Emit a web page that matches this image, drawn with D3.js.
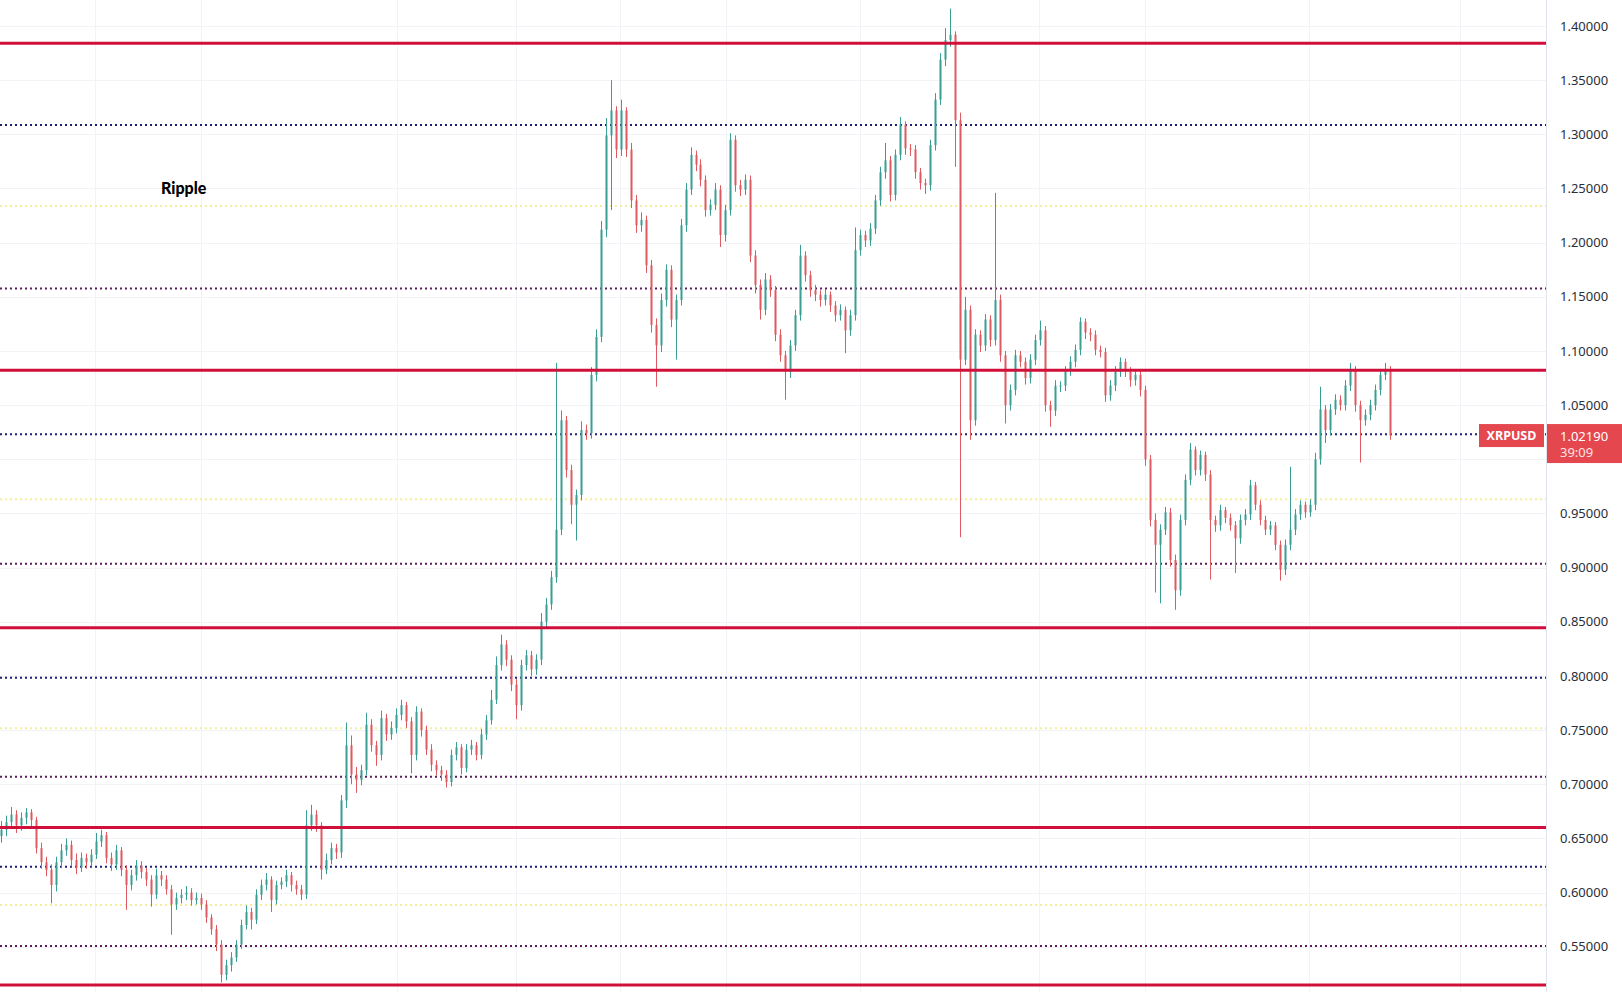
<!DOCTYPE html>
<html><head><meta charset="utf-8">
<script src="https://cdn.jsdelivr.net/npm/d3@7/dist/d3.min.js"></script>
<style>html,body{margin:0;padding:0;background:#fff;overflow:hidden}svg{display:block}</style>
</head><body>
<script>
// ---- data (XRPUSD) ----
const firstOpen = 0.652;
const closes = [
0.658,0.665,0.672,0.662,0.669,0.674,0.667,0.641,0.628,0.621,
0.607,0.628,0.639,0.644,0.630,0.623,0.632,0.628,0.635,0.647,
0.653,0.632,0.626,0.639,0.621,0.607,0.616,0.625,0.619,0.612,
0.598,0.616,0.612,0.603,0.589,0.595,0.598,0.600,0.593,0.595,
0.589,0.577,0.566,0.552,0.524,0.533,0.540,0.552,0.570,0.582,
0.575,0.598,0.607,0.612,0.593,0.607,0.610,0.616,0.607,0.603,
0.598,0.662,0.672,0.662,0.621,0.630,0.641,0.637,0.685,0.736,
0.709,0.704,0.713,0.755,0.736,0.727,0.761,0.746,0.752,0.764,
0.773,0.758,0.727,0.767,0.750,0.732,0.718,0.713,0.709,0.702,
0.727,0.734,0.715,0.732,0.736,0.727,0.746,0.759,0.778,0.810,
0.829,0.815,0.792,0.773,0.810,0.819,0.806,0.815,0.850,0.866,
0.891,0.935,1.036,0.990,0.958,0.967,1.027,1.024,1.078,1.113,
1.212,1.299,1.322,1.286,1.322,1.286,1.239,1.216,1.221,1.179,
1.124,1.105,1.147,1.175,1.129,1.147,1.216,1.249,1.281,1.272,
1.258,1.230,1.235,1.249,1.207,1.230,1.295,1.253,1.249,1.258,
1.188,1.161,1.138,1.166,1.156,1.115,1.096,1.081,1.105,1.133,
1.188,1.170,1.156,1.152,1.147,1.152,1.142,1.133,1.138,1.119,
1.133,1.193,1.207,1.202,1.213,1.239,1.265,1.276,1.244,1.281,
1.309,1.287,1.286,1.265,1.255,1.253,1.290,1.332,1.369,1.387,
1.392,1.313,1.092,1.138,1.036,1.115,1.105,1.129,1.110,1.147,
1.096,1.050,1.064,1.096,1.090,1.075,1.092,1.110,1.119,1.050,
1.045,1.068,1.068,1.082,1.090,1.101,1.127,1.117,1.115,1.101,
1.099,1.059,1.068,1.081,1.090,1.081,1.073,1.078,1.064,1.000,
0.944,0.921,0.935,0.951,0.907,0.879,0.944,0.981,1.009,0.990,
1.004,0.986,0.944,0.939,0.953,0.946,0.939,0.927,0.944,0.949,
0.976,0.958,0.944,0.935,0.939,0.921,0.898,0.921,0.935,0.949,
0.958,0.951,0.958,1.000,1.046,1.027,1.046,1.055,1.050,1.068,
1.082,1.050,1.036,1.041,1.050,1.064,1.078,1.082,1.0219
];
const highs = [
0.666,0.671,0.679,0.676,0.674,0.678,0.677,0.670,0.646,0.633,
0.626,0.633,0.645,0.650,0.648,0.636,0.637,0.636,0.640,0.655,
0.658,0.656,0.637,0.644,0.642,0.625,0.621,0.630,0.629,0.623,
0.616,0.622,0.620,0.616,0.607,0.600,0.603,0.606,0.604,0.600,
0.599,0.593,0.580,0.570,0.556,0.538,0.545,0.556,0.575,0.588,
0.586,0.603,0.612,0.618,0.615,0.611,0.614,0.621,0.619,0.611,
0.607,0.676,0.681,0.676,0.665,0.636,0.646,0.645,0.690,0.757,
0.745,0.716,0.718,0.766,0.760,0.740,0.768,0.765,0.758,0.770,
0.778,0.776,0.762,0.772,0.770,0.754,0.737,0.722,0.717,0.713,
0.732,0.739,0.737,0.737,0.741,0.739,0.751,0.764,0.787,0.818,
0.838,0.833,0.819,0.797,0.815,0.824,0.823,0.820,0.858,0.872,
0.897,1.089,1.045,1.040,0.995,0.972,1.035,1.032,1.085,1.120,
1.220,1.315,1.350,1.326,1.332,1.325,1.292,1.244,1.228,1.225,
1.184,1.130,1.153,1.180,1.179,1.152,1.222,1.255,1.288,1.285,
1.277,1.262,1.240,1.255,1.253,1.235,1.301,1.299,1.258,1.263,
1.262,1.193,1.166,1.172,1.170,1.160,1.120,1.100,1.110,1.138,
1.198,1.192,1.174,1.161,1.156,1.157,1.155,1.146,1.143,1.141,
1.138,1.214,1.212,1.211,1.218,1.244,1.270,1.292,1.280,1.286,
1.316,1.312,1.291,1.290,1.269,1.259,1.295,1.338,1.375,1.398,
1.416,1.395,1.320,1.150,1.142,1.120,1.119,1.134,1.133,1.246,
1.152,1.100,1.069,1.101,1.100,1.094,1.097,1.115,1.128,1.123,
1.054,1.073,1.072,1.086,1.095,1.106,1.131,1.130,1.121,1.119,
1.105,1.103,1.073,1.086,1.094,1.093,1.085,1.082,1.083,1.068,
1.004,0.950,0.940,0.956,0.955,0.912,0.949,0.986,1.015,1.012,
1.008,1.007,0.990,0.948,0.958,0.956,0.950,0.943,0.949,0.954,
0.981,0.979,0.962,0.948,0.943,0.942,0.925,0.926,0.993,0.954,
0.962,0.961,0.963,1.006,1.067,1.050,1.051,1.060,1.059,1.073,
1.089,1.086,1.054,1.046,1.055,1.069,1.083,1.089,1.086
];
const lows = [
0.646,0.652,0.660,0.655,0.657,0.663,0.660,0.636,0.622,0.615,
0.590,0.601,0.623,0.634,0.624,0.617,0.619,0.622,0.624,0.631,
0.642,0.627,0.620,0.621,0.615,0.584,0.602,0.611,0.613,0.606,
0.587,0.594,0.606,0.598,0.561,0.584,0.590,0.593,0.588,0.589,
0.584,0.572,0.561,0.546,0.517,0.519,0.527,0.536,0.548,0.566,
0.566,0.571,0.593,0.602,0.582,0.589,0.603,0.605,0.601,0.598,
0.593,0.594,0.657,0.656,0.612,0.617,0.626,0.631,0.632,0.678,
0.700,0.692,0.699,0.708,0.730,0.717,0.722,0.740,0.741,0.747,
0.759,0.752,0.710,0.722,0.744,0.727,0.712,0.708,0.703,0.697,
0.698,0.722,0.709,0.711,0.727,0.722,0.723,0.741,0.755,0.774,
0.805,0.809,0.786,0.760,0.768,0.805,0.800,0.801,0.810,0.845,
0.861,0.886,0.930,0.983,0.940,0.925,0.962,1.018,1.019,1.072,
1.108,1.205,1.230,1.278,1.280,1.279,1.232,1.209,1.210,1.172,
1.117,1.067,1.099,1.141,1.122,1.092,1.142,1.210,1.244,1.266,
1.252,1.224,1.225,1.230,1.196,1.201,1.225,1.247,1.243,1.244,
1.182,1.153,1.129,1.133,1.150,1.109,1.090,1.055,1.075,1.100,
1.128,1.164,1.150,1.146,1.141,1.142,1.136,1.127,1.128,1.098,
1.114,1.128,1.188,1.196,1.197,1.208,1.234,1.259,1.238,1.239,
1.276,1.281,1.280,1.259,1.249,1.245,1.248,1.285,1.327,1.363,
1.381,1.270,0.928,1.087,1.018,1.031,1.099,1.100,1.104,1.105,
1.090,1.033,1.045,1.059,1.085,1.069,1.070,1.087,1.105,1.044,
1.030,1.040,1.062,1.063,1.077,1.085,1.096,1.111,1.109,1.096,
1.094,1.053,1.054,1.063,1.076,1.076,1.067,1.068,1.058,0.994,
0.938,0.877,0.867,0.930,0.901,0.861,0.874,0.939,0.976,0.985,
0.985,0.980,0.889,0.933,0.934,0.941,0.934,0.895,0.922,0.939,
0.944,0.953,0.939,0.930,0.930,0.916,0.888,0.893,0.916,0.930,
0.944,0.946,0.947,0.953,0.995,1.015,1.022,1.041,1.045,1.045,
1.063,1.044,0.997,1.031,1.036,1.045,1.059,1.073,1.018
];
const redLevels = [1.384, 1.0823, 0.8444, 0.6600, 0.5147];
const blueLevels = [1.3086, 1.0230, 0.7983, 0.6237];
const yellowLevels = [1.2339, 0.9630, 0.7517, 0.5884];
const purpleLevels = [1.1576, 0.9035, 0.7069, 0.5506];
const tickPrices = [1.40,1.35,1.30,1.25,1.20,1.15,1.10,1.05,1.00,0.95,0.90,0.85,0.80,0.75,0.70,0.65,0.60,0.55];
const symbol = "XRPUSD";
const lastPriceLabel = "1.02190";
const countdown = "39:09";
const title = "Ripple";
const gridX = [95, 201, 397, 516, 620, 726, 860, 1039, 1145, 1309, 1460];

// ---- layout ----
const W = 1622, H = 992, plotRight = 1546;
const svg = d3.select("body").append("svg").attr("width", W).attr("height", H);
svg.append("rect").attr("width", W).attr("height", H).attr("fill", "#ffffff");

const y = d3.scaleLinear().domain([0.55, 1.40]).range([946.7, 26]);
const N = closes.length;
const x = d3.scaleLinear().domain([0, N - 1]).range([1, 1390]);

const candles = closes.map((c, i) => ({
  o: i === 0 ? firstOpen : closes[i - 1], c, h: highs[i], l: lows[i], i
}));

// grid
const grid = svg.append("g");
grid.selectAll("line.h").data(tickPrices).join("line")
  .attr("x1", 0).attr("x2", plotRight).attr("y1", d => Math.round(y(d)) + 0.5).attr("y2", d => Math.round(y(d)) + 0.5)
  .attr("stroke", "#f2f3f7").attr("stroke-width", 1);
grid.selectAll("line.v").data(gridX).join("line")
  .attr("x1", d => d + 0.5).attr("x2", d => d + 0.5).attr("y1", 0).attr("y2", H)
  .attr("stroke", "#f2f3f7").attr("stroke-width", 1);

// dotted levels
function levels(data, color, dash, width) {
  svg.append("g").selectAll("line").data(data).join("line")
    .attr("x1", 0).attr("x2", plotRight)
    .attr("y1", d => y(d)).attr("y2", d => y(d))
    .attr("stroke", color).attr("stroke-width", width)
    .attr("stroke-dasharray", dash);
}
levels(yellowLevels, "#f3ee9a", "2,3", 2);
levels(purpleLevels, "#5a1d5e", "2,3", 2);
levels(blueLevels, "#1b1f78", "2,3", 2);

// candles
const cg = svg.append("g");
const up = "#3a9e94", dn = "#de5a60";
cg.selectAll("line.w").data(candles).join("line")
  .attr("x1", d => Math.round(x(d.i)) + 0.5).attr("x2", d => Math.round(x(d.i)) + 0.5)
  .attr("y1", d => y(d.h)).attr("y2", d => y(d.l))
  .attr("stroke", d => d.c >= d.o ? up : dn).attr("stroke-width", 1);
cg.selectAll("rect").data(candles).join("rect")
  .attr("x", d => Math.round(x(d.i)) - 0.5).attr("width", 2)
  .attr("y", d => y(Math.max(d.o, d.c)))
  .attr("height", d => Math.max(1, Math.abs(y(d.o) - y(d.c))))
  .attr("fill", d => d.c >= d.o ? up : dn);

// red solid levels
svg.append("g").selectAll("line").data(redLevels).join("line")
  .attr("x1", 0).attr("x2", plotRight)
  .attr("y1", d => y(d)).attr("y2", d => y(d))
  .attr("stroke", "#d0103a").attr("stroke-width", 3);

// price axis (labels hidden where the last-price tag covers them)
const lastY = y(closes[N - 1]);
svg.append("line").attr("x1", plotRight + 0.5).attr("x2", plotRight + 0.5).attr("y1", 0).attr("y2", H)
  .attr("stroke", "#e0e3eb");
const axisTicks = tickPrices.filter(p => Math.abs(y(p) - (lastY + 8)) > 22);
const axis = d3.axisRight(y).tickValues(axisTicks).tickFormat(d3.format(".5f")).tickSize(0).tickPadding(14);
const ag = svg.append("g").attr("transform", `translate(${plotRight},0)`).call(axis);
ag.select(".domain").remove();
ag.selectAll("text").attr("font-family", "'Noto Sans', 'DejaVu Sans', sans-serif")
  .attr("font-size", 13).attr("fill", "#2a2e39");

// title
svg.append("text").attr("x", 161).attr("y", 194).text(title)
  .attr("font-family", "Lato, 'Noto Sans', sans-serif").attr("font-weight", 900)
  .attr("font-size", 16).attr("fill", "#000");

// last price tags
const tag = svg.append("g");
tag.append("rect").attr("x", 1479).attr("y", lastY - 11.5).attr("width", 65).attr("height", 23).attr("fill", "#e5474f");
tag.append("text").attr("x", 1511.5).attr("y", lastY + 4.5).attr("text-anchor", "middle").text(symbol)
  .attr("font-family", "'Noto Sans', sans-serif").attr("font-weight", 700).attr("font-size", 12.5).attr("fill", "#fff");
tag.append("rect").attr("x", 1547).attr("y", lastY - 11.5).attr("width", 75).attr("height", 39).attr("fill", "#e5474f");
tag.append("text").attr("x", 1560).attr("y", lastY + 5).text(lastPriceLabel)
  .attr("font-family", "'Noto Sans', sans-serif").attr("font-size", 13).attr("fill", "#fff");
tag.append("text").attr("x", 1560).attr("y", lastY + 21).text(countdown)
  .attr("font-family", "'Noto Sans', sans-serif").attr("font-size", 13).attr("fill", "#fde3e4");
</script>
</body></html>
